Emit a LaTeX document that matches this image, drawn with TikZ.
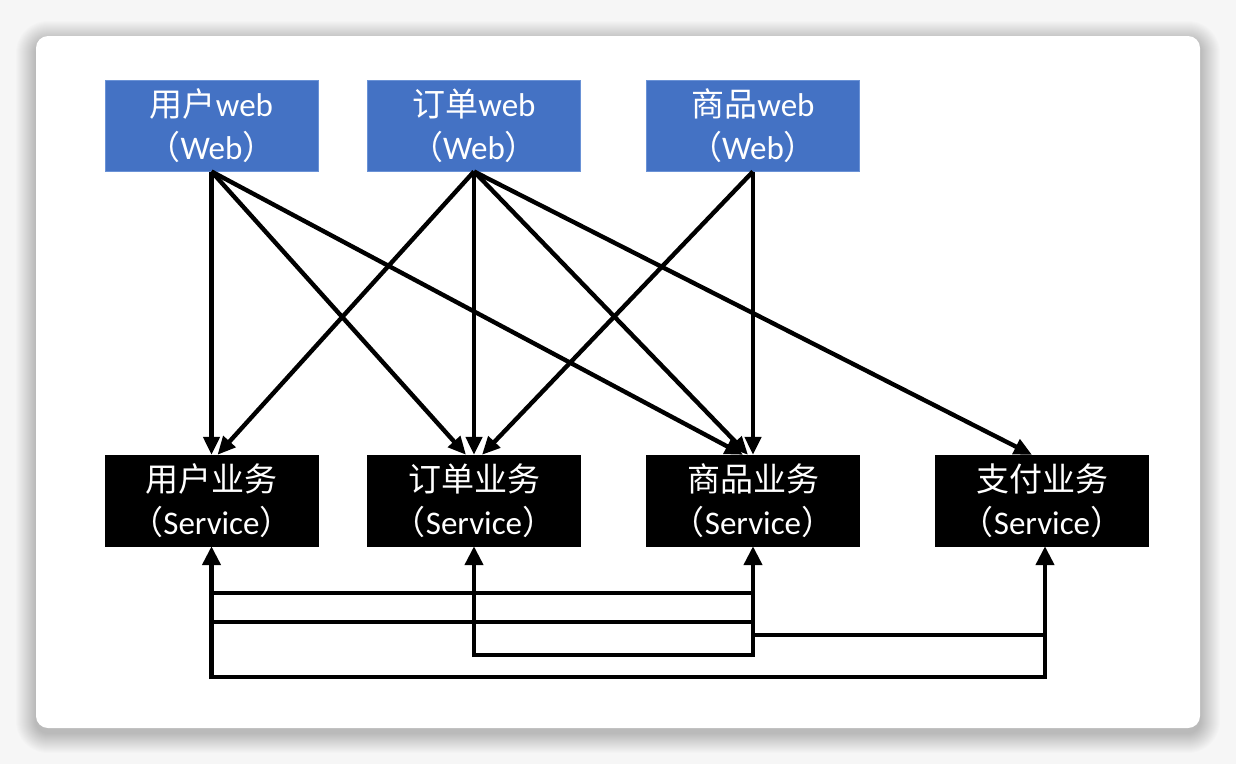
\documentclass[tikz,border=0pt]{standalone}
\usepackage{fontspec}
\setmainfont{Carlito}
\newfontfamily\cjk{Noto Sans CJK SC}
\usetikzlibrary{arrows.meta,calc}
\definecolor{webblue}{HTML}{4472C4}
\definecolor{webedge}{HTML}{6A92D6}
\definecolor{pagebg}{HTML}{F6F6F6}
\begin{document}
\begin{tikzpicture}[x=1pt,y=-1pt,
  webbox/.style={fill=webblue,draw=webedge,line width=1pt,minimum width=213pt,minimum height=91pt,inner sep=0pt,text=white,align=center,font=\fontsize{33}{43}\selectfont},
  svcbox/.style={fill=black,draw=black,minimum width=213pt,minimum height=91pt,inner sep=0pt,text=white,align=center,font=\fontsize{33}{43}\selectfont},
  link/.style={line width=4.4pt,-{Triangle[length=18pt,width=16pt]}},
  uplink/.style={line width=4.4pt,-{Triangle[length=19pt,width=18pt]}},
  bus/.style={line width=4.4pt,line cap=rect}]
\useasboundingbox (0,0) rectangle (1236,764);
\fill[pagebg] (0,0) rectangle (1236,764);
\foreach \i in {1,...,20}{
  \fill[black,opacity=0.011,rounded corners=12+\i] (36-\i,36-\i+5) rectangle (1200+\i,728+\i+5);
}
\fill[white,rounded corners=12pt] (36,36) rectangle (1200,728);

\node[webbox] (w1) at (211.5,125.5) {{\cjk 用户}web\\{\cjk （}Web{\cjk ）}};
\node[webbox] (w2) at (474,125.5) {{\cjk 订单}web\\{\cjk （}Web{\cjk ）}};
\node[webbox] (w3) at (753,125.5) {{\cjk 商品}web\\{\cjk （}Web{\cjk ）}};

\node[svcbox] (s1) at (211.5,500.5) {{\cjk 用户业务}\\{\cjk （}Service{\cjk ）}};
\node[svcbox] (s2) at (474,500.5) {{\cjk 订单业务}\\{\cjk （}Service{\cjk ）}};
\node[svcbox] (s3) at (753,500.5) {{\cjk 商品业务}\\{\cjk （}Service{\cjk ）}};
\node[svcbox] (s4) at (1042,500.5) {{\cjk 支付业务}\\{\cjk （}Service{\cjk ）}};

\draw[link] (w1.south) -- (s1.north);
\draw[link] (w1.south) -- ([xshift=-8pt]s2.north);
\draw[link] (w1.south) -- ([xshift=-10pt]s3.north);
\draw[link] (w2.south) -- ([xshift=6pt]s1.north);
\draw[link] (w2.south) -- (s2.north);
\draw[link] (w2.south) -- ([xshift=-5pt]s3.north);
\draw[link] (w2.south) -- ([xshift=-10pt]s4.north);
\draw[link] (w3.south) -- ([xshift=8pt]s2.north);
\draw[link] (w3.south) -- (s3.north);

\coordinate (h1) at (0,593);
\coordinate (h2) at (0,622);
\coordinate (h3) at (0,635);
\coordinate (h4) at (0,655);
\coordinate (h5) at (0,677);
\coordinate (g4) at (0,657.2);
\coordinate (g5) at (0,679.2);
\coordinate (p4) at ([xshift=3pt]s4.south);

\draw[bus] (s1.south |- h1) -- (s3.south |- h1);
\draw[bus] (s1.south |- h2) -- (s3.south |- h2);
\draw[bus] (s3.south |- h3) -- (p4 |- h3);
\draw[bus] (s2.south |- h4) -- (s3.south |- h4);
\draw[bus] (s1.south |- h5) -- (p4 |- h5);

\draw[uplink] (s1.south |- g5) -- (s1.south);
\draw[uplink] (s2.south |- g4) -- (s2.south);
\draw[uplink] (s3.south |- g4) -- (s3.south);
\draw[uplink] (p4 |- g5) -- (p4);
\end{tikzpicture}
\end{document}
